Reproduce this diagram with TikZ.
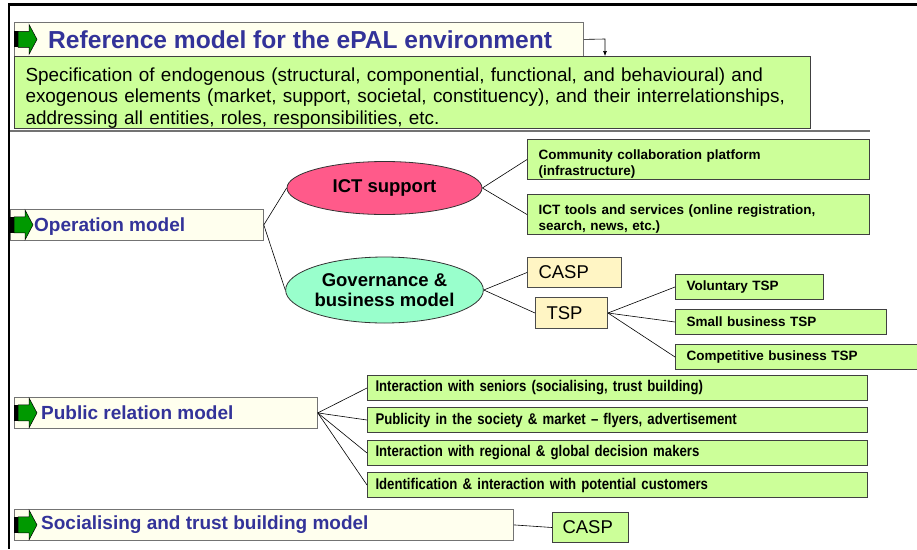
\documentclass[tikz,border=0pt]{standalone}
\usepackage{fontspec}
\setmainfont{Liberation Sans}
\newfontfamily\narrowfont[FakeStretch=0.85]{Liberation Sans}
\usetikzlibrary{arrows.meta,shapes.geometric}

\definecolor{headblue}{HTML}{333399}
\definecolor{headcream}{HTML}{FFFFEE}
\definecolor{leafgreen}{HTML}{CCFF99}
\definecolor{ictpink}{HTML}{FF5A8A}
\definecolor{govmint}{HTML}{99FFCC}
\definecolor{roleyellow}{HTML}{FFF5C4}
\definecolor{icongreen}{HTML}{009900}

\tikzset{
  headbox/.style={draw=black!55, fill=headcream, line width=0.8pt, anchor=north west, inner sep=0pt},
  headtext/.style={anchor=west, text=headblue, inner sep=0pt, font=\bfseries\fontsize{19}{21}\selectfont},
  leafbox/.style={draw=black!75, fill=leafgreen, line width=1pt, anchor=north west, inner ysep=0pt, inner xsep=11pt, align=left, font=\bfseries\fontsize{13.5}{16}\selectfont},
  lowtext/.style={execute at begin node={\rule{0pt}{#1}}},
  rolebox/.style={draw=black!70, fill=roleyellow, line width=1pt, anchor=north west, inner ysep=0pt, inner xsep=11pt, align=left, font=\fontsize{18.5}{20}\selectfont},
  prbox/.style={leafbox, minimum width=500, minimum height=25, text width=484, inner xsep=8pt, font=\narrowfont\bfseries\fontsize{15.5}{17}\selectfont},
  topic/.style={ellipse, draw=black!80, line width=0.8pt, inner sep=0pt, align=center, minimum width=195, minimum height=53, font=\bfseries\fontsize{18.5}{20.5}\selectfont},
  link/.style={black, line width=0.6pt},
  greenarrow/.pic={
    \fill[black] (0,-8) rectangle (4,8);
    \filldraw[fill=icongreen, draw=black, line width=0.5pt] (4,-8) -- (15,-8) -- (15,-15) -- (23,0) -- (15,15) -- (15,8) -- (4,8) -- cycle;
  }
}

\begin{document}
\begin{tikzpicture}[x=1pt,y=-1pt]
\useasboundingbox (0,0) rectangle (917,549);

\draw[line width=2.5pt] (8,4.5) -- (917,4.5);
\draw[line width=2.5pt] (9,4) -- (9,549);
\draw[black!55, line width=1.5pt] (10,131) -- (870,131);

% reference model
\node[headbox, minimum width=569, minimum height=34] (reftitle) at (14,22) {};
\node[headtext, font=\bfseries\fontsize{24.6}{27}\selectfont] (reftitletext) at ([xshift=34]reftitle.west) {Reference model for the ePAL environment};
\pic at (reftitle.west) {greenarrow};
\node[leafbox, lowtext=24pt, minimum width=796, minimum height=72, text width=774, font=\fontsize{18.9}{21.5}\selectfont] (refdesc) at (14,56) {Specification of endogenous (structural, componential, functional, and behavioural) and\\ exogenous elements (market, support, societal, constituency), and their interrelationships,\\ addressing all entities, roles, responsibilities, etc.};
\coordinate (titlebend) at (605,39);
\draw[link, -{Latex[length=5pt,width=4pt]}] (reftitle.east) -- (titlebend) -- (titlebend |- refdesc.north);

% operation model
\node[headbox, minimum width=253, minimum height=31] (opmodel) at (10,209) {};
\node[headtext] (opmodeltext) at ([xshift=24,yshift=-2]opmodel.west) {Operation model};
\pic at (opmodel.west) {greenarrow};

\node[topic, fill=ictpink] (ictsupport) at (384.5,188) {ICT support};
\node[topic, fill=govmint, minimum height=66] (governance) at (384.5,290) {Governance \&\\ business model};

\node[leafbox, lowtext=18pt, minimum width=342, minimum height=40, text width=320] (platform) at (527,139) {Community collaboration platform\\ (infrastructure)};
\node[leafbox, lowtext=18pt, minimum width=342, minimum height=40, text width=320] (ictools) at (527,194) {ICT tools and services (online registration,\\ search, news, etc.)};

\node[rolebox, minimum width=94, minimum height=30, text width=72] (casp) at (527,257) {CASP};
\node[rolebox, minimum width=72, minimum height=31, text width=50] (tsp) at (535,297) {TSP};

\node[leafbox, minimum width=148, minimum height=25, text width=126] (voluntary) at (675,274) {Voluntary TSP};
\node[leafbox, minimum width=211, minimum height=25, text width=189] (smalltsp) at (675,309) {Small business TSP};
\node[leafbox, minimum width=250, minimum height=25, text width=228] (competitive) at (675,344) {Competitive business TSP};

\draw[link] (opmodel.east) -- (ictsupport.west) (opmodel.east) -- (governance.west);
\draw[link] (ictsupport.east) -- (platform.west) (ictsupport.east) -- (ictools.west);
\draw[link] (governance.east) -- (casp.west) (governance.east) -- (tsp.west);
\foreach \leaf in {voluntary,smalltsp,competitive}
  \draw[link] (tsp.east) -- (\leaf.west);

% public relation model
\node[headbox, minimum width=303, minimum height=31] (prmodel) at (14,397) {};
\node[headtext] (prmodeltext) at ([xshift=27]prmodel.west) {Public relation model};
\pic at (prmodel.west) {greenarrow};

\node[prbox] (seniors) at (367,375) {Interaction with seniors (socialising, trust building)};
\node[prbox] (publicity) at (367,407) {Publicity in the society \& market \textendash{} flyers, advertisement};
\node[prbox] (decision) at (367,440) {Interaction with regional \& global decision makers};
\node[prbox] (customers) at (367,472) {Identification \& interaction with potential customers};
\foreach \leaf in {seniors,publicity,decision,customers}
  \draw[link] (prmodel.east) -- (\leaf.west);

% socialising and trust building model
\node[headbox, minimum width=499, minimum height=31] (socmodel) at (14,509) {};
\node[headtext] (socmodeltext) at ([xshift=27]socmodel.west) {Socialising and trust building model};
\pic at (socmodel.west) {greenarrow};
\node[leafbox, minimum width=76, minimum height=30, text width=56, inner xsep=10pt, font=\fontsize{18.5}{20}\selectfont] (casptrust) at (552,512) {CASP};
\draw[link] (socmodel.east) -- (casptrust.west);
\end{tikzpicture}
\end{document}
